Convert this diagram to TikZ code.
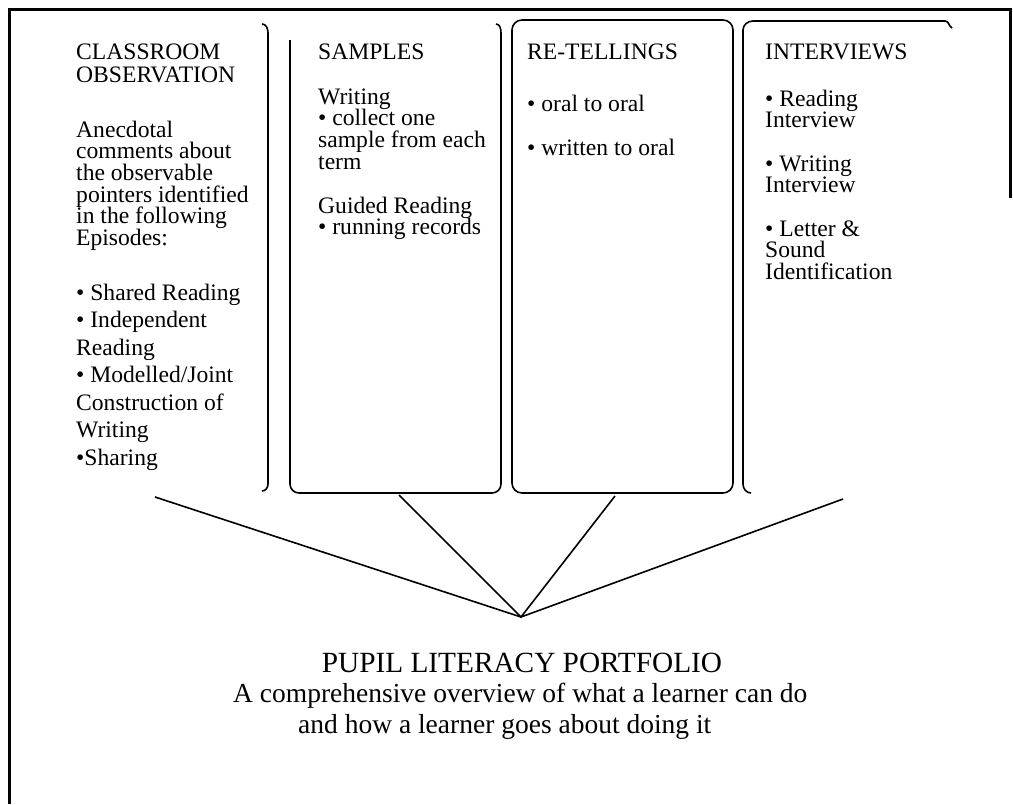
\documentclass[tikz,border=0pt]{standalone}
\usepackage{fontspec}
\setmainfont{Liberation Serif}
\begin{document}
\begin{tikzpicture}[x=1pt,y=-1pt,
  frame/.style={line width=3pt},
  boxline/.style={line width=1.6pt},
  connector/.style={line width=1.6pt},
  txt/.style={anchor=base west,inner sep=0pt,font=\fontsize{23.6}{22}\selectfont},
  title/.style={anchor=base,inner sep=0pt,font=\fontsize{29.3}{30}\selectfont},
  subtitle/.style={anchor=base west,inner sep=0pt,font=\fontsize{27.5}{28}\selectfont}]
\useasboundingbox (0,0) rectangle (1013,804);
% outer frame
\draw[frame] (9,804) -- (9,9) -- (1010,9) -- (1010,198);
% box 1 (right bracket only)
\draw[boxline] (262,24) to[out=0,in=90] (268,33) -- (268,484) to[out=270,in=0] (262,491);
% box 2
\draw[boxline] (496,24) to[out=0,in=90] (501,33) -- (501,484) to[out=270,in=0] (492,493) -- (299,493) to[out=180,in=270] (290,484) -- (290,40);
% box 3
\draw[boxline,rounded corners=10pt] (512,20) rectangle (733,493);
% box 4
\draw[boxline] (751,493) to[out=180,in=270] (743,484) -- (743,30) to[out=90,in=180] (753,21) -- (945,21) to[out=0,in=150] (952,28);
% apex and connector ends
\coordinate (apex) at (521,617);
\coordinate (e1) at (155,497);
\coordinate (e2) at (399,495);
\coordinate (e3) at (615,496);
\coordinate (e4) at (843,499);
\draw[connector] (e1) -- (apex) -- (e4);
\draw[connector] (e2) -- (apex) -- (e3);
% column 1
\node[txt] (h1a) at (76,59) {CLASSROOM};
\node[txt] (h1b) at (76,82) {OBSERVATION};
\foreach \t [count=\i from 0] in {Anecdotal,comments about,the observable,pointers identified,in the following,Episodes:}
  \node[txt] (c1a\i) at (76,137+21.7*\i) {\t};
\foreach \t [count=\i from 0] in {• Shared Reading,• Independent,Reading,• Modelled/Joint,Construction of,Writing,•Sharing}
  \node[txt] (c1b\i) at (76,300+27.5*\i) {\t};
% column 2
\node[txt] (h2) at (318,59) {SAMPLES};
\foreach \t [count=\i from 0] in {Writing,• collect one,sample from each,term}
  \node[txt] (c2a\i) at (318,104+21.7*\i) {\t};
\foreach \t [count=\i from 0] in {Guided Reading,• running records}
  \node[txt] (c2b\i) at (318,213+21.7*\i) {\t};
% column 3
\node[txt] (h3) at (527,59) {RE-TELLINGS};
\node[txt] (c3a) at (527,111) {• oral to oral};
\node[txt] (c3b) at (527,155) {• written to oral};
% column 4
\node[txt] (h4) at (765,59) {INTERVIEWS};
\foreach \t [count=\i from 0] in {• Reading,Interview}
  \node[txt] (c4a\i) at (765,106+21.7*\i) {\t};
\foreach \t [count=\i from 0] in {• Writing,Interview}
  \node[txt] (c4b\i) at (765,171+21.7*\i) {\t};
\foreach \t [count=\i from 0] in {• Letter \&,Sound,Identification}
  \node[txt] (c4c\i) at (765,236+21.7*\i) {\t};
% bottom
\node[title] (t) at (522,672) {PUPIL LITERACY PORTFOLIO};
\node[subtitle] (s1) at (233,702) {A comprehensive overview of what a learner can do};
\node[subtitle] (s2) at (298,733) {and how a learner goes about doing it};
\end{tikzpicture}
\end{document}
